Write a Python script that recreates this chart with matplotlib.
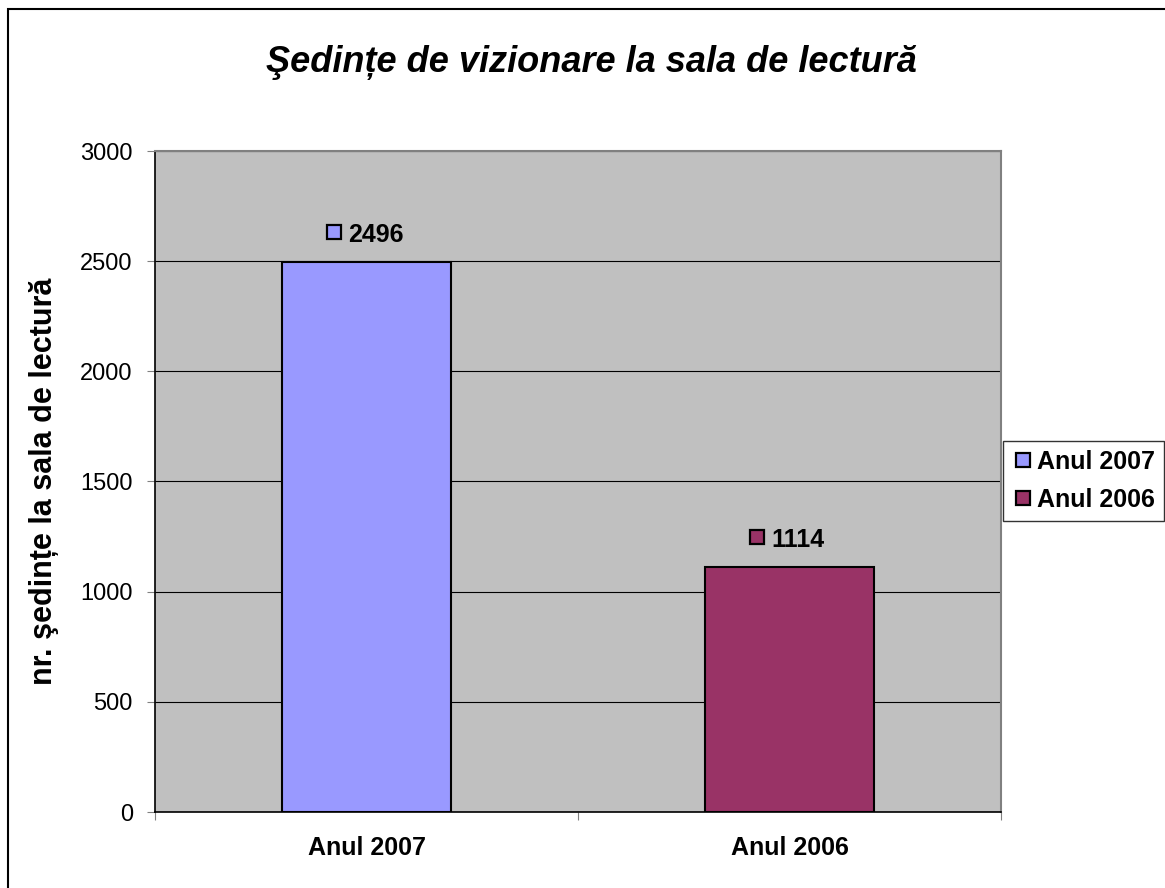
import matplotlib
matplotlib.use("Agg")
import matplotlib.pyplot as plt
import matplotlib.transforms as mtransforms
from matplotlib.patches import Rectangle
from matplotlib.lines import Line2D

categories = ["Anul 2007", "Anul 2006"]
values = [2496, 1114]
colors = ["#9999FF", "#993366"]
yticks = [0, 500, 1000, 1500, 2000, 2500, 3000]
title = "Şedințe de vizionare la sala de lectură"
ylabel = "nr. şedințe la sala de lectură"

plt.rcParams['font.family'] = ['Liberation Sans', 'DejaVu Sans']

W, H = 1165, 888
fig = plt.figure(figsize=(W/100, H/100), dpi=100)
ax = fig.add_axes([155/W, 1-812/H, (1001-155)/W, (812-151)/H])
ax.set_facecolor("#C0C0C0")

x = list(range(len(categories)))
ax.bar(x, values, width=0.4, color=colors, edgecolor="black", linewidth=1.5, zorder=3)
ax.set_xlim(-0.5, len(categories) - 0.5)
ax.set_ylim(0, 3000)
ax.set_yticks(yticks)
ax.set_yticklabels([str(t) for t in yticks], fontsize=17)
ax.yaxis.grid(True, color="black", linewidth=0.8, zorder=1)
ax.set_axisbelow(True)

ax.set_xticks([-0.5, 0.5, 1.5])
ax.set_xticklabels([])
ax.set_xticks(x, minor=True)
ax.set_xticklabels(categories, minor=True, fontsize=18, fontweight="bold")
ax.tick_params(axis="x", which="minor", length=0, pad=17)
ax.tick_params(axis="x", which="major", length=6, direction="out", color="#808080")
ax.tick_params(axis="y", length=6, direction="out", color="#808080", pad=10)

for s in ["top", "right"]:
    ax.spines[s].set_color("#808080")
    ax.spines[s].set_linewidth(1.5)
for s in ["left", "bottom"]:
    ax.spines[s].set_color("black")
    ax.spines[s].set_linewidth(1.2)

ax.set_ylabel(ylabel, fontsize=22, fontweight="bold", labelpad=15)

px = 0.72  # points per pixel at 100 dpi
for xi, v, c in zip(x, values, colors):
    ax.annotate(str(v), xy=(xi, v), xytext=(-18.5*px, 27*px), textcoords="offset points",
                ha="left", va="center", fontsize=18, fontweight="bold", zorder=5,
                annotation_clip=False)
    tr = ax.transData + mtransforms.ScaledTranslation(-33/100, 30/100, fig.dpi_scale_trans)
    ax.plot([xi], [v], marker="s", markersize=10.5, markerfacecolor=c,
            markeredgecolor="black", markeredgewidth=1.6, linestyle="none",
            transform=tr, zorder=5, clip_on=False)

fig.text(591/W, 1-62/H, title, ha="center", va="center", fontsize=26,
         fontstyle="italic", fontweight="bold")

handles = [Line2D([], [], marker="s", markersize=10.5, markerfacecolor=c,
                  markeredgecolor="black", markeredgewidth=1.6, linestyle="none")
           for c in colors]
leg = fig.legend(handles, categories, loc="center left",
                 bbox_to_anchor=(1003/W, 1-481/H), frameon=True,
                 prop={"size": 18, "weight": "bold"}, handletextpad=0.1,
                 borderpad=0.35, labelspacing=0.55, handlelength=0.9,
                 fancybox=False, borderaxespad=0)
leg.get_frame().set_edgecolor("black")
leg.get_frame().set_linewidth(1.0)

fig.patches.append(Rectangle((8/W, -0.1), 1.2, 1 - 9/H + 0.1, transform=fig.transFigure,
                             fill=False, edgecolor="black", linewidth=1.5))

fig.savefig("out.png", dpi=100)
